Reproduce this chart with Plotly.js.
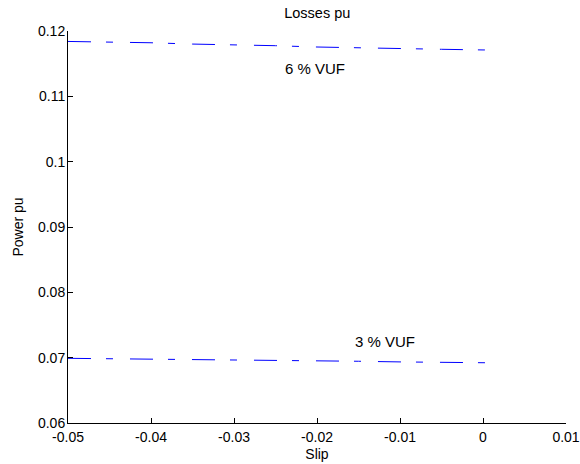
<!DOCTYPE html>
<html>
<head>
<meta charset="utf-8">
<script src="https://cdn.plot.ly/plotly-3.0.1.min.js"></script>
<style>html,body{margin:0;padding:0;background:#fff;}#chart{width:580px;height:464px;}</style>
</head>
<body>
<div id="chart"></div>
<script>
var slip = [-0.05, -0.045, -0.04, -0.035, -0.03, -0.025, -0.02, -0.015, -0.01, -0.005, 0, 0.002];
var losses6 = [0.1184, 0.11835, 0.1182, 0.1180, 0.1179, 0.11775, 0.11755, 0.1174, 0.1173, 0.1172, 0.1171, 0.1171];
var losses3 = [0.0699, 0.06985, 0.06975, 0.0697, 0.06965, 0.0696, 0.06955, 0.06945, 0.06935, 0.0693, 0.0692, 0.0692];
var xTicks = [-0.05, -0.04, -0.03, -0.02, -0.01, 0, 0.01];
var xTickText = ["-0.05", "-0.04", "-0.03", "-0.02", "-0.01", "0", "0.01"];
var yTicks = [0.06, 0.07, 0.08, 0.09, 0.1, 0.11, 0.12];
var yTickText = ["0.06", "0.07", "0.08", "0.09", "0.1", "0.11", "0.12"];
var labels = ["6 % VUF", "3 % VUF"];
var labelX = [-0.0202, -0.0118];
var labelY = [0.11433, 0.0724];

var FONT = "Liberation Sans, Arial, sans-serif";
var lineStyle = {color: "rgb(0,0,255)", width: 1, dash: "23px,15px,7px,17px"};
var traces = [
  {x: slip, y: losses6, mode: "lines", line: lineStyle, hoverinfo: "none"},
  {x: slip, y: losses3, mode: "lines", line: lineStyle, hoverinfo: "none"}
];
var annotations = labels.map(function(t, i){
  return {x: labelX[i], y: labelY[i], xref: "x", yref: "y", text: t, showarrow: false,
          font: {family: FONT, size: 15, color: "#000"}};
});
var axisCommon = {
  showline: true, linecolor: "#000", linewidth: 1, mirror: false,
  ticks: "inside", ticklen: 5, tickcolor: "#000", tickwidth: 1,
  showgrid: false, zeroline: false, tickmode: "array",
  tickfont: {family: FONT, size: 14, color: "#000"}
};
var layout = {
  width: 580, height: 464,
  margin: {l: 68, r: 14, t: 31, b: 41},
  paper_bgcolor: "#fff", plot_bgcolor: "#fff",
  showlegend: false,
  font: {family: FONT, size: 14, color: "#000"},
  title: {text: "Losses pu", x: 0.547, xanchor: "center", y: 0.972, yanchor: "middle",
          font: {family: FONT, size: 14.5, color: "#000"}},
  xaxis: Object.assign({}, axisCommon, {
    range: [-0.05, 0.01], tickvals: xTicks, ticktext: xTickText,
    ticklabelstandoff: 1,
    title: {text: "Slip", standoff: 5, font: {family: FONT, size: 14}}
  }),
  yaxis: Object.assign({}, axisCommon, {
    range: [0.06, 0.12], tickvals: yTicks, ticktext: yTickText,
    ticklabelstandoff: -1,
    title: {text: "Power pu", standoff: 11, font: {family: FONT, size: 14}}
  }),
  annotations: annotations
};
Plotly.newPlot("chart", traces, layout, {staticPlot: true, displayModeBar: false});
</script>
</body>
</html>
